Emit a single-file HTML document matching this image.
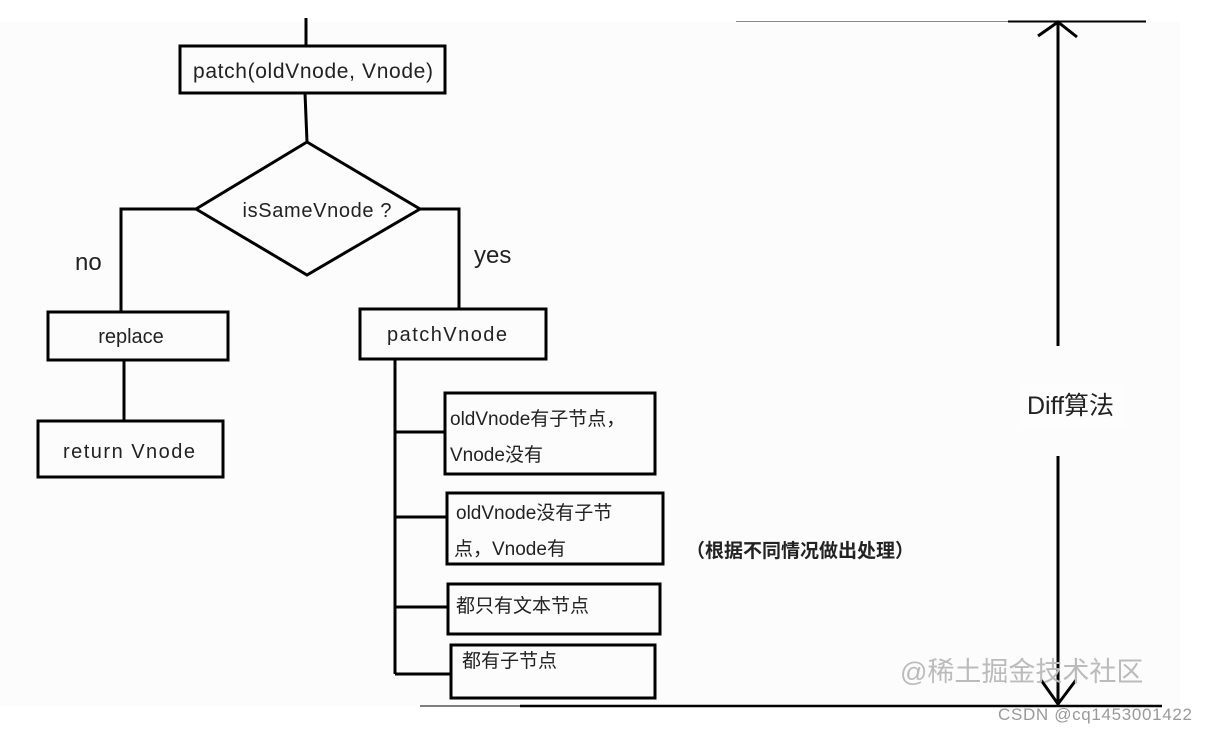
<!DOCTYPE html>
<html><head><meta charset="utf-8"><style>
html,body{margin:0;padding:0;background:#fff;}
svg{display:block;}
text{font-family:"Liberation Sans","Noto Sans CJK SC",sans-serif;fill:#222;}
</style></head><body>
<svg width="1206" height="732" viewBox="0 0 1206 732" xmlns="http://www.w3.org/2000/svg">
<rect x="0" y="0" width="1206" height="732" fill="#fff"/>
<rect x="0" y="22" width="1180" height="684" fill="#fcfcfc"/>
<g stroke="#000" stroke-width="3" fill="none">
<line x1="306" y1="18" x2="306" y2="46"/>
<rect x="180" y="46" width="265" height="47"/>
<line x1="305" y1="93" x2="307" y2="142"/>
<polygon points="307,142 420,209 307,275 196,209"/>
<polyline points="196,209 121,209 121,312"/>
<polyline points="420,209 459,209 459,309"/>
<rect x="48" y="312" width="180" height="48"/>
<line x1="124" y1="360" x2="124" y2="421"/>
<rect x="38" y="421" width="185" height="56"/>
<rect x="360" y="309" width="186" height="50"/>
<line x1="395" y1="359" x2="395" y2="674"/>
<line x1="395" y1="432" x2="445" y2="432"/>
<line x1="395" y1="517" x2="447" y2="517"/>
<line x1="395" y1="607" x2="448" y2="607"/>
<line x1="395" y1="674" x2="451" y2="674"/>
<rect x="445" y="393" width="210" height="81"/>
<rect x="447" y="493" width="216" height="71"/>
<rect x="448" y="584" width="212" height="50"/>
<rect x="451" y="645" width="204" height="53"/>
<line x1="1058" y1="23" x2="1058" y2="346"/>
<polyline points="1038,36 1058,22 1077,37"/>
<line x1="1058" y1="456" x2="1058" y2="705"/>
<polyline points="1041,680 1058,704 1076,680"/>
<line x1="1008" y1="21.5" x2="1146" y2="21.5" stroke-width="2"/>
<line x1="520" y1="706" x2="1162" y2="706" stroke-width="2.5"/>
</g>
<line x1="736" y1="21.5" x2="1008" y2="21.5" stroke="#888" stroke-width="1"/>
<line x1="420" y1="706" x2="520" y2="706" stroke="#555" stroke-width="1.5"/>
<text x="313" y="78" font-size="21" text-anchor="middle" textLength="240">patch(oldVnode, Vnode)</text>
<text x="317" y="217" font-size="20" text-anchor="middle" textLength="149">isSameVnode ?</text>
<text x="75" y="270" font-size="24">no</text>
<text x="474" y="263" font-size="24">yes</text>
<text x="131" y="343" font-size="20" text-anchor="middle">replace</text>
<text x="129" y="458" font-size="20" text-anchor="middle" textLength="132">return Vnode</text>
<text x="447" y="341" font-size="20" text-anchor="middle" textLength="120">patchVnode</text>
<text x="450" y="425" font-size="19">oldVnode有子节点，</text>
<text x="450" y="461" font-size="19">Vnode没有</text>
<text x="456" y="519" font-size="19">oldVnode没有子节</text>
<text x="454" y="555" font-size="19">点，Vnode有</text>
<text x="456" y="612" font-size="19">都只有文本节点</text>
<text x="462" y="667" font-size="19">都有子节点</text>
<text x="686" y="557" font-size="19" font-weight="bold">（根据不同情况做出处理）</text>
<rect x="1020" y="384" width="105" height="44" fill="#fdfdfd"/>
<text x="1027" y="414" font-size="25">Diff算法</text>
<text x="900" y="681" font-size="27" style="fill:#bbb">@稀土掘金技术社区</text>
<text x="998" y="720" font-size="17" style="fill:#999" textLength="194">CSDN @cq1453001422</text>
</svg>
</body></html>
